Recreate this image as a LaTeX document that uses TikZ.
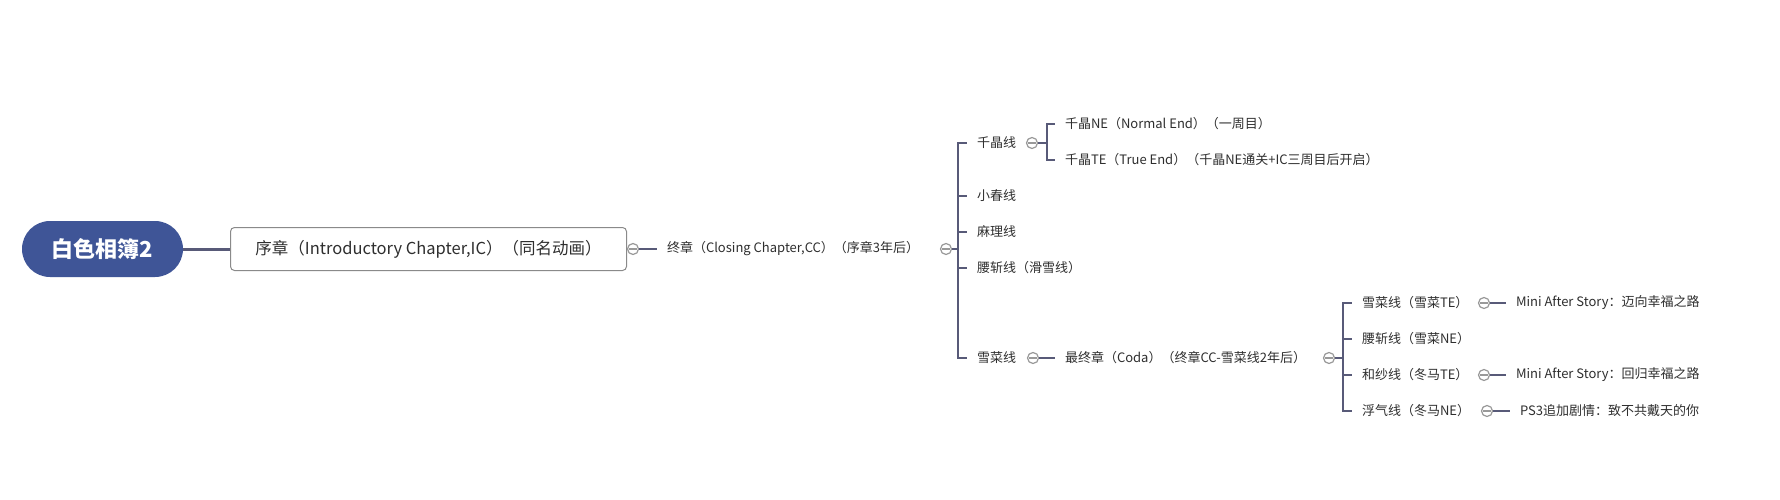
\documentclass[tikz,border=0pt]{standalone}
\usepackage{fontspec}
\setmainfont{Noto Sans CJK SC}
\usetikzlibrary{positioning}
\definecolor{rootblue}{HTML}{3F5597}
\definecolor{linkgray}{HTML}{585A78}
\definecolor{knobgray}{HTML}{999999}
\definecolor{txtgray}{HTML}{2E2E2E}
\definecolor{boxgray}{HTML}{8A8A8A}

\begin{document}
\begin{tikzpicture}[x=1pt,y=-1pt,
    topic/.style={anchor=west,inner xsep=10pt,inner ysep=0pt,outer sep=0pt,text=txtgray,font=\fontsize{13}{15}\selectfont},
    knob/.style={circle,draw=knobgray,line width=1.2pt,minimum size=11pt,inner sep=0pt,fill=white,
      path picture={\draw[knobgray,line width=1.2pt] ([xshift=-4pt]path picture bounding box.center) -- ([xshift=4pt]path picture bounding box.center);}},
    link/.style={linkgray,line width=2pt}]
\useasboundingbox (0,0) rectangle (1780,500);

% root and first chapter
\node[fill=rootblue,rounded corners=28pt,minimum width=161pt,minimum height=56pt,text=white,
  font=\bfseries\fontsize{22}{26}\selectfont] (root) at (102.5,249) {白色相簿2};
\node[draw=boxgray,line width=1pt,rounded corners=4pt,minimum width=396pt,minimum height=43pt,anchor=west,
  text=txtgray,font=\fontsize{16.5}{20}\selectfont] (intro) at (230,249) {序章（Introductory Chapter,IC）（同名动画）};
\draw[linkgray,line width=3pt] (root.east) -- (intro.west);
\node[knob] (c1) at (633,249) {};
\node[topic] (cc) at (657,249) {终章（Closing Chapter,CC）（序章3年后）};
\draw[link] (c1) -- (cc);

% routes
\node[knob] (c2) at (946,249) {};
\coordinate (b2) at (958,249);
\node[topic] (qj) at (967,143) {千晶线};
\node[topic] (xc) at (967,196) {小春线};
\node[topic] (ml) at (967,232) {麻理线};
\node[topic] (yz) at (967,268) {腰斩线（滑雪线）};
\node[topic] (xn) at (967,358) {雪菜线};
\draw[link] (c2) -- (b2);
\draw[link,line cap=rect] (b2 |- qj.west) -- (b2 |- xn.west);
\foreach \n in {qj,xc,ml,yz,xn}
  \draw[link] (b2 |- \n.west) -- (\n.west);

% chiaki endings
\node[knob] (c3) at (1032,143) {};
\coordinate (b3) at (1047,143);
\node[topic] (qjne) at (1055,124) {千晶NE（Normal End）（一周目）};
\node[topic] (qjte) at (1055,160) {千晶TE（True End）（千晶NE通关+IC三周目后开启）};
\draw[link] (c3) -- (b3);
\draw[link,line cap=rect] (b3 |- qjne.west) -- (b3 |- qjte.west);
\foreach \n in {qjne,qjte}
  \draw[link] (b3 |- \n.west) -- (\n.west);

% coda
\node[knob] (c4) at (1033,358) {};
\node[topic] (coda) at (1055,358) {最终章（Coda）（终章CC-雪菜线2年后）};
\draw[link] (c4) -- (coda);
\node[knob] (c5) at (1329,358) {};
\coordinate (b5) at (1343,358);
\node[topic] (xnte) at (1352,303) {雪菜线（雪菜TE）};
\node[topic] (xnne) at (1352,339) {腰斩线（雪菜NE）};
\node[topic] (hste) at (1352,375) {和纱线（冬马TE）};
\node[topic] (fqne) at (1352,411) {浮气线（冬马NE）};
\draw[link] (c5) -- (b5);
\draw[link,line cap=rect] (b5 |- xnte.west) -- (b5 |- fqne.west);
\foreach \n in {xnte,xnne,hste,fqne}
  \draw[link] (b5 |- \n.west) -- (\n.west);

% after stories
\node[knob] (c6) at (1484,303) {};
\node[topic] (as1) at (1506,303) {Mini After Story：迈向幸福之路};
\draw[link] (c6) -- (as1);
\node[knob] (c7) at (1484,375) {};
\node[topic] (as2) at (1506,375) {Mini After Story：回归幸福之路};
\draw[link] (c7) -- (as2);
\node[knob] (c8) at (1487,411) {};
\node[topic] (ps3) at (1510,411) {PS3追加剧情：致不共戴天的你};
\draw[link] (c8) -- (ps3);
\end{tikzpicture}
\end{document}
